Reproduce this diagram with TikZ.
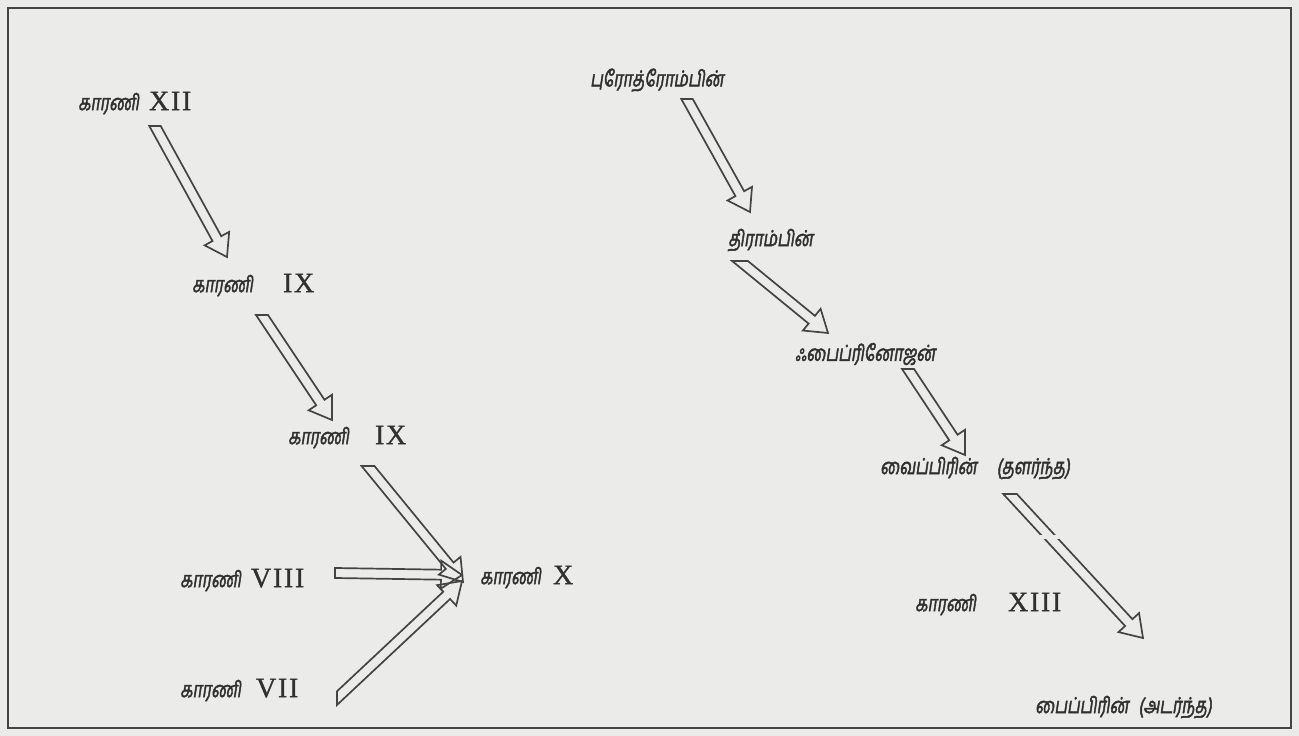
\documentclass[tikz,border=0pt]{standalone}
\usepackage{fontspec}
\usetikzlibrary{calc}
\newfontfamily\ta[Script=Tamil,FakeSlant=0.15,FakeStretch=0.73,FakeBold=2]{Hind Madurai}
\newfontfamily\rn[LetterSpace=6,FakeBold=1]{Liberation Serif}
\definecolor{bgcol}{RGB}{235,235,234}
\definecolor{ink}{RGB}{68,68,68}
\definecolor{txt}{RGB}{48,48,48}
\newcommand\tmtxt[1]{{\ta\fontsize{22}{22}\selectfont #1}}
\newcommand\rmnum[1]{{\rn\fontsize{28}{28}\selectfont #1}}
\newcommand\sw{5pt}
\newcommand\hw{14pt}
\newcommand\hl{21pt}
\newcommand\harrow[3]{%
  \coordinate (hA) at (#1); \coordinate (hB) at (#2);
  \coordinate (hH) at ($(hB)!\hl!(hA)$);
  \coordinate (hL1) at ($(hA)!\sw!90:(hB)$);
  \coordinate (hL2) at ($(hH)!\sw!90:(hB)$);
  \coordinate (hR1) at ($(hA)!\sw!-90:(hB)$);
  \coordinate (hR2) at ($(hH)!\sw!-90:(hB)$);
  \coordinate (hC) at ($(hA)+#3$);
  \draw[hollow] (intersection of hL1--hL2 and hA--hC) -- (hL2)
     -- ($(hH)!\hw!90:(hB)$) -- (hB) -- ($(hH)!\hw!-90:(hB)$) -- (hR2)
     -- (intersection of hR1--hR2 and hA--hC) -- cycle;
}
\tikzset{
  lbl/.style={anchor=west,inner sep=0pt,text=txt},
  hollow/.style={draw=ink,line width=1.7pt,line join=miter}
}
\begin{document}
\begin{tikzpicture}[x=1pt,y=-1pt]
\useasboundingbox (0,0) rectangle (1299,736);
\fill[bgcol] (0,0) rectangle (1299,736);
\draw[ink,line width=1.4pt] (8,8) rectangle (1291,728);

% labels
\node[lbl] (n12) at (78,103) {\tmtxt{காரணி}\hspace{10pt}\rmnum{XII}};
\node[lbl] (n9a) at (192,285) {\tmtxt{காரணி}\hspace{30pt}\rmnum{IX}};
\node[lbl] (n9b) at (288,437) {\tmtxt{காரணி}\hspace{26pt}\rmnum{IX}};
\node[lbl] (n8) at (180,580) {\tmtxt{காரணி}\hspace{10pt}\rmnum{VIII}};
\node[lbl] (n7) at (180,690) {\tmtxt{காரணி}\hspace{15pt}\rmnum{VII}};
\node[lbl] (n10) at (480,577) {\tmtxt{காரணி}\hspace{12pt}\rmnum{X}};
\node[lbl] (pro) at (590,80) {\tmtxt{புரோத்ரோம்பின்}};
\node[lbl] (thr) at (728,240) {\tmtxt{திராம்பின்}};
\node[lbl] (fib) at (795,354) {\tmtxt{ஃபைப்ரினோஜன்}};
\node[lbl] (loose) at (880,468) {\tmtxt{வைப்பிரின்}\hspace{20pt}\tmtxt{(தளர்ந்த)}};
\node[lbl] (n13) at (915,604) {\tmtxt{காரணி}\hspace{32pt}\rmnum{XIII}};
\node[lbl] (dense) at (1035,707) {\tmtxt{பைப்பிரின்}\hspace{10pt}\tmtxt{(அடர்ந்த)}};

% arrow ends
\coordinate (a1s) at (155,126); \coordinate (a1e) at (227,257);
\coordinate (a2s) at (262,315); \coordinate (a2e) at (332,420);
\coordinate (a3s) at (368,466); \coordinate (a3e) at (463,582);
\coordinate (a4s) at (335,573); \coordinate (a4e) at (462,575);
\coordinate (a5s) at (337,698); \coordinate (a5e) at (462,581);
\coordinate (a6s) at (687,99);  \coordinate (a6e) at (750,212);
\coordinate (a7s) at (740,261); \coordinate (a7e) at (828,333);
\coordinate (a8s) at (908,369); \coordinate (a8e) at (965,455);
\coordinate (a9s) at (1010,494); \coordinate (a9e) at (1143,638);

\harrow{a1s}{a1e}{(1,0)}
\harrow{a2s}{a2e}{(1,0)}
\harrow{a3s}{a3e}{(1,0)}
\harrow{a4s}{a4e}{(0,1)}
\harrow{a5s}{a5e}{(0,1)}
\harrow{a6s}{a6e}{(1,0)}
\harrow{a7s}{a7e}{(1,0)}
\harrow{a8s}{a8e}{(1,0)}
\harrow{a9s}{a9e}{(1,0)}
% small print break in the last shaft
\coordinate (gap) at ($(a9s)!0.3!(a9e)$);
\draw[bgcol,line width=4pt] ($(gap)+(-10,0)$) -- ($(gap)+(10,0)$);
\end{tikzpicture}
\end{document}
